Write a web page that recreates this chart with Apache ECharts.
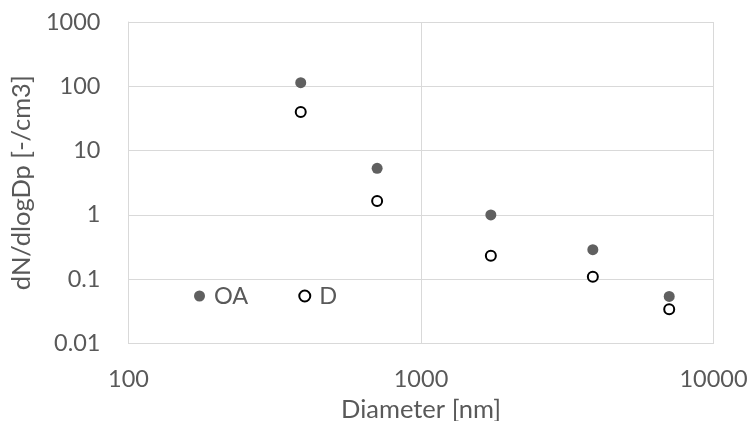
<!DOCTYPE html>
<html>
<head>
<meta charset="utf-8">
<script src="https://cdn.jsdelivr.net/npm/echarts@6/dist/echarts.min.js"></script>
<style>
  html, body { margin: 0; padding: 0; background: #fff; }
  #main { width: 750px; height: 421px; }
</style>
</head>
<body>
<div id="main"></div>
<script>
// diameters [nm] and dN/dlogDp values
var diameters = [388, 708, 1733, 3868, 7056];
var oaValues = [114, 5.3, 1.0, 0.288, 0.054];
var dValues = [40, 1.64, 0.232, 0.109, 0.034];
var seriesNames = ['OA', 'D'];

var TEXT = '#595959';
var GRID = '#d9d9d9';

function pairs(xs, ys) {
    var out = [];
    for (var i = 0; i < xs.length; i++) out.push([xs[i], ys[i]]);
    return out;
}
function fmt(v) {
    return String(Number(v.toPrecision(6)));
}

var chart = echarts.init(document.getElementById('main'));
var option = {
    animation: false,
    textStyle: { fontFamily: 'Lato', color: TEXT },
    grid: {
        left: 128.5, right: 36.5, top: 22, bottom: 77.5,
        containLabel: false,
        outerBoundsMode: 'none'
    },
    legend: {
        data: seriesNames,
        left: 189,
        top: 279,
        itemWidth: 11,
        itemHeight: 11,
        itemGap: 50,
        textStyle: { fontFamily: 'Lato', fontSize: 23.5, color: TEXT, padding: [0, 0, 0, 4] }
    },
    xAxis: {
        type: 'log',
        logBase: 10,
        min: 100,
        max: 10000,
        name: 'Diameter [nm]',
        nameLocation: 'middle',
        nameGap: 44,
        nameTextStyle: { fontFamily: 'Lato', fontSize: 25.5, color: TEXT },
        axisLine: { lineStyle: { color: GRID, width: 1 } },
        axisTick: { show: false },
        axisLabel: { fontSize: 23.5, color: TEXT, margin: 24, formatter: fmt },
        splitLine: { show: true, lineStyle: { color: GRID, width: 1 } },
        minorTick: { show: false }
    },
    yAxis: {
        type: 'log',
        logBase: 10,
        min: 0.01,
        max: 1000,
        name: 'dN/dlogDp [-/cm3]',
        nameLocation: 'middle',
        nameGap: 84,
        nameTextStyle: { fontFamily: 'Lato', fontSize: 25.5, color: TEXT },
        axisLine: { show: true, lineStyle: { color: GRID, width: 1 } },
        axisTick: { show: false },
        axisLabel: { fontSize: 23.5, color: TEXT, margin: 28, formatter: fmt },
        splitLine: { show: true, lineStyle: { color: GRID, width: 1 } }
    },
    series: [
        {
            name: 'OA',
            type: 'scatter',
            symbol: 'circle',
            symbolSize: 11,
            itemStyle: { color: '#606060', opacity: 1 },
            data: pairs(diameters, oaValues)
        },
        {
            name: 'D',
            type: 'scatter',
            symbol: 'circle',
            symbolSize: 10,
            itemStyle: { color: '#ffffff', borderColor: '#000000', borderWidth: 2, opacity: 1 },
            data: pairs(diameters, dValues)
        }
    ]
};
chart.setOption(option);
</script>
</body>
</html>
